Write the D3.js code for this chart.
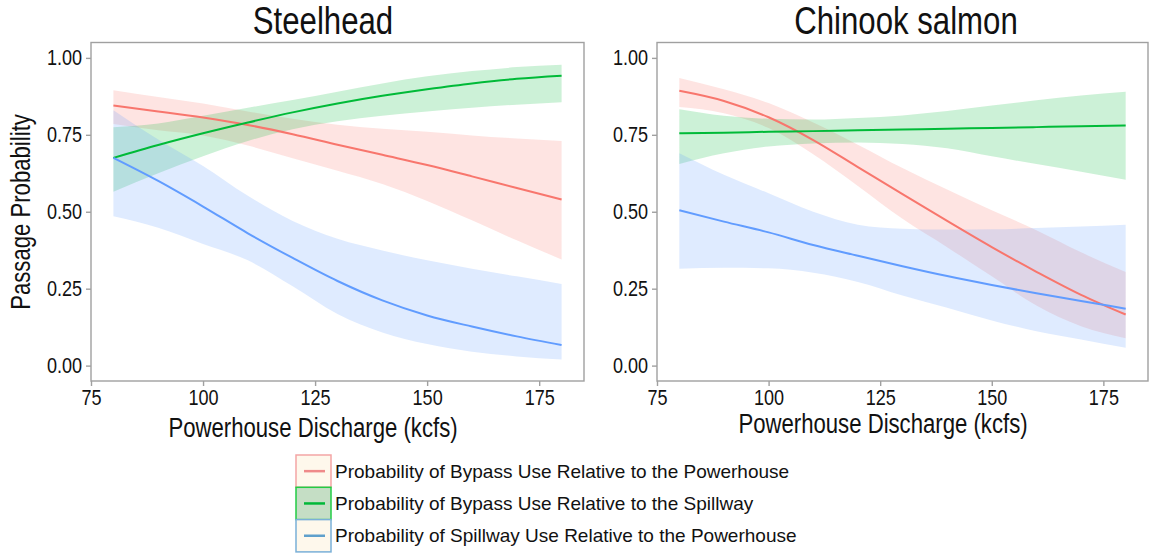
<!DOCTYPE html>
<html>
<head>
<meta charset="utf-8">
<script src="https://cdn.jsdelivr.net/npm/d3@7"></script>
<style>
  body { margin: 0; background: #fff; }
  svg text { font-family: "Liberation Sans", Arial, sans-serif; fill: #111; }
</style>
</head>
<body>
<svg id="chart" width="1149" height="554"></svg>
<script>
const discharge = [80, 90, 100, 110, 120, 130, 140, 150, 160, 170, 180];
const xTicks = [75, 100, 125, 150, 175];
const yTicks = [0, 0.25, 0.5, 0.75, 1];

const seriesNames = [
  "Probability of Bypass Use Relative to the Powerhouse",
  "Probability of Bypass Use Relative to the Spillway",
  "Probability of Spillway Use Relative to the Powerhouse",
];
const seriesColors = ["#F8766D", "#00BA38", "#619CFF"];

// steelhead
const shBypassPH = [0.845, 0.826, 0.806, 0.782, 0.752, 0.718, 0.685, 0.652, 0.615, 0.577, 0.54];
const shBypassPHLow = [0.785, 0.765, 0.748, 0.715, 0.674, 0.633, 0.59, 0.535, 0.472, 0.407, 0.345];
const shBypassPHHigh = [0.895, 0.873, 0.852, 0.826, 0.802, 0.783, 0.77, 0.76, 0.748, 0.738, 0.73];
const shBypassSW = [0.675, 0.717, 0.755, 0.79, 0.823, 0.852, 0.877, 0.898, 0.917, 0.932, 0.942];
const shBypassSWLow = [0.565, 0.625, 0.68, 0.73, 0.768, 0.794, 0.812, 0.826, 0.838, 0.848, 0.856];
const shBypassSWHigh = [0.775, 0.787, 0.812, 0.838, 0.863, 0.89, 0.917, 0.94, 0.957, 0.97, 0.978];
const shSpillPH = [0.675, 0.6, 0.517, 0.43, 0.35, 0.275, 0.212, 0.163, 0.127, 0.095, 0.067];
const shSpillPHLow = [0.485, 0.448, 0.395, 0.342, 0.258, 0.168, 0.108, 0.07, 0.045, 0.03, 0.02];
const shSpillPHHigh = [0.83, 0.735, 0.649, 0.552, 0.47, 0.412, 0.374, 0.342, 0.315, 0.29, 0.265];

// chinook
const ckBypassPH = [0.893, 0.86, 0.807, 0.733, 0.645, 0.557, 0.47, 0.385, 0.305, 0.23, 0.166];
const ckBypassPHLow = [0.84, 0.82, 0.772, 0.687, 0.584, 0.477, 0.385, 0.29, 0.195, 0.128, 0.089];
const ckBypassPHHigh = [0.935, 0.898, 0.853, 0.79, 0.718, 0.642, 0.572, 0.505, 0.44, 0.368, 0.304];
const ckBypassSW = [0.755, 0.757, 0.76, 0.762, 0.765, 0.767, 0.77, 0.772, 0.775, 0.778, 0.78];
const ckBypassSWLow = [0.655, 0.69, 0.712, 0.722, 0.725, 0.72, 0.706, 0.68, 0.655, 0.63, 0.604];
const ckBypassSWHigh = [0.833, 0.812, 0.802, 0.8, 0.805, 0.813, 0.827, 0.845, 0.862, 0.878, 0.89];
const ckSpillPH = [0.505, 0.468, 0.433, 0.392, 0.357, 0.323, 0.291, 0.262, 0.235, 0.21, 0.185];
const ckSpillPHLow = [0.315, 0.318, 0.316, 0.302, 0.272, 0.228, 0.188, 0.147, 0.112, 0.085, 0.058];
const ckSpillPHHigh = [0.69, 0.62, 0.56, 0.5, 0.458, 0.445, 0.442, 0.443, 0.447, 0.452, 0.458];

const panels = [
  {
    title: "Steelhead", left: 91, right: 584, titleX: 323, xTitleX: 313, xTitleY: 437, showYTitle: true,
    fits: [shBypassPH, shBypassSW, shSpillPH],
    lows: [shBypassPHLow, shBypassSWLow, shSpillPHLow],
    highs: [shBypassPHHigh, shBypassSWHigh, shSpillPHHigh],
  },
  {
    title: "Chinook salmon", left: 657, right: 1148, titleX: 906, xTitleX: 883, xTitleY: 433, showYTitle: false,
    fits: [ckBypassPH, ckBypassSW, ckSpillPH],
    lows: [ckBypassPHLow, ckBypassSWLow, ckSpillPHLow],
    highs: [ckBypassPHHigh, ckBypassSWHigh, ckSpillPHHigh],
  },
];

const svg = d3.select("#chart");
const plotTop = 42.5;
const plotBottom = 381;
const narrowFactor = 0.82; // the original uses a condensed Arial

const y = d3.scaleLinear().domain([-0.05, 1.05]).range([plotBottom, plotTop]);

function narrow(selection) {
  selection.each(function () {
    const w = this.getComputedTextLength();
    d3.select(this).attr("textLength", w * narrowFactor).attr("lengthAdjust", "spacingAndGlyphs");
  });
}

panels.forEach((panel) => {
  const x = d3.scaleLinear().domain([75, 185]).range([panel.left, panel.right]);
  const g = svg.append("g");

  // ribbons first, then lines
  panel.fits.forEach((fit, i) => {
    const area = d3
      .area()
      .x((d, j) => x(discharge[j]))
      .y0((d, j) => y(panel.lows[i][j]))
      .y1((d, j) => y(panel.highs[i][j]))
      .curve(d3.curveMonotoneX);
    g.append("path")
      .attr("d", area(fit))
      .attr("fill", seriesColors[i])
      .attr("fill-opacity", 0.2);
  });

  panel.fits.forEach((fit, i) => {
    const line = d3
      .line()
      .x((d, j) => x(discharge[j]))
      .y((d) => y(d))
      .curve(d3.curveMonotoneX);
    g.append("path")
      .attr("d", line(fit))
      .attr("fill", "none")
      .attr("stroke", seriesColors[i])
      .attr("stroke-width", 2);
  });

  g.append("rect")
    .attr("x", panel.left)
    .attr("y", plotTop)
    .attr("width", panel.right - panel.left)
    .attr("height", plotBottom - plotTop)
    .attr("fill", "none")
    .attr("stroke", "#a0a0a0")
    .attr("stroke-width", 1.4);

  const xAxis = d3.axisBottom(x).tickValues(xTicks).tickSize(5).tickPadding(3).tickFormat(d3.format("d"));
  const xg = g.append("g").attr("transform", `translate(0,${plotBottom})`).call(xAxis);
  const yAxis = d3.axisLeft(y).tickValues(yTicks).tickSize(5).tickPadding(4).tickFormat(d3.format(".2f"));
  const yg = g.append("g").attr("transform", `translate(${panel.left},0)`).call(yAxis);

  [xg, yg].forEach((ag) => {
    ag.select(".domain").remove();
    ag.selectAll(".tick line").attr("stroke", "#a0a0a0").attr("stroke-width", 1.4);
    ag.selectAll(".tick text")
      .attr("fill", "#111")
      .style("font-size", "22px")
      .style("font-family", "'Liberation Sans', Arial, sans-serif")
      .call(narrow);
  });

  g.append("text")
    .attr("x", panel.titleX)
    .attr("y", 34)
    .attr("text-anchor", "middle")
    .style("font-size", "38px")
    .text(panel.title)
    .call(narrow);

  g.append("text")
    .attr("x", panel.xTitleX)
    .attr("y", panel.xTitleY)
    .attr("text-anchor", "middle")
    .style("font-size", "27px")
    .text("Powerhouse Discharge (kcfs)")
    .call(narrow);

  if (panel.showYTitle) {
    g.append("text")
      .attr("transform", "translate(30,212) rotate(-90)")
      .attr("text-anchor", "middle")
      .style("font-size", "27px")
      .text("Passage Probability")
      .call(narrow);
  }
});

// legend
const legendKeyFill = ["#fef8ec", "#c5dec5", "#fef8ec"];
const legendKeyBorder = ["#f4a5a5", "#22cc44", "#7ab0d8"];
const legendKeyLine = ["#ef8a8a", "#00b838", "#5fa0cc"];
const legend = svg.append("g").attr("transform", "translate(296,455)");
const rowH = 32.3;

seriesNames.forEach((name, i) => {
  const row = legend.append("g").attr("transform", `translate(0,${i * rowH})`);
  row.append("rect")
    .attr("width", 35)
    .attr("height", rowH)
    .attr("fill", legendKeyFill[i])
    .attr("stroke", legendKeyBorder[i])
    .attr("stroke-width", 1.5);
  row.append("line")
    .attr("x1", 8)
    .attr("x2", 29)
    .attr("y1", rowH / 2)
    .attr("y2", rowH / 2)
    .attr("stroke", legendKeyLine[i])
    .attr("stroke-width", 2.5);
  row.append("text")
    .attr("x", 39)
    .attr("y", rowH / 2)
    .attr("dy", "0.35em")
    .style("font-size", "19px")
    .text(name);
});
</script>
</body>
</html>
